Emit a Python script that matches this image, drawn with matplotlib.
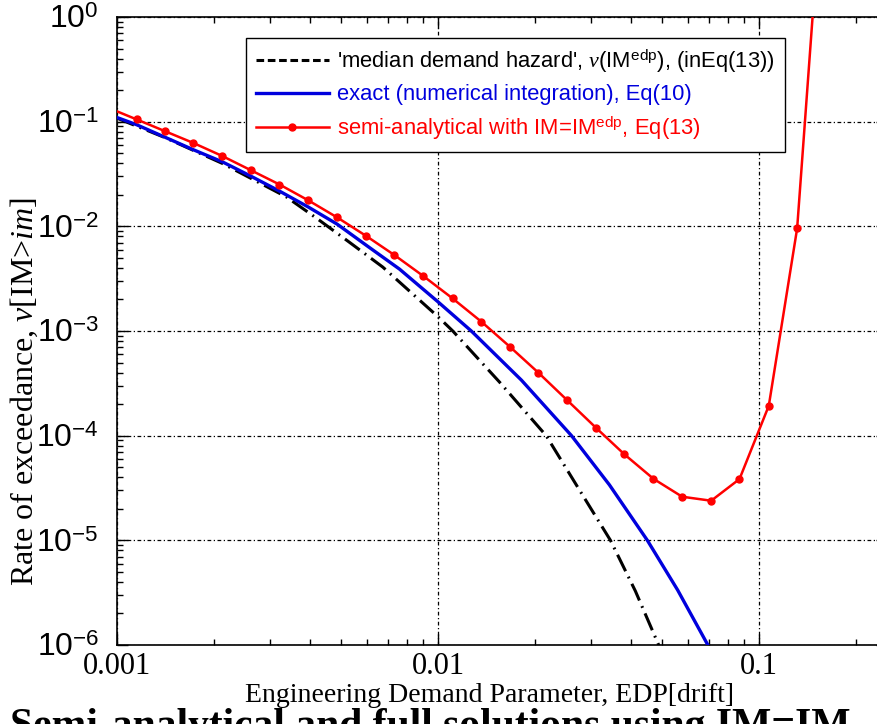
import matplotlib
matplotlib.use("Agg")
import matplotlib.pyplot as plt
from matplotlib.ticker import FixedLocator, FixedFormatter, LogLocator, NullFormatter
from matplotlib.lines import Line2D

plt.rcParams['mathtext.fontset'] = 'custom'
plt.rcParams['mathtext.rm'] = 'Liberation Sans'
plt.rcParams['mathtext.it'] = 'Liberation Serif:italic'
plt.rcParams['mathtext.bf'] = 'Liberation Sans:bold'

# ---- data ----
semi_x = [0.000938, 0.001152, 0.001411, 0.001725, 0.002124, 0.002611, 0.003208,
          0.003950, 0.004853, 0.005967, 0.007318, 0.009012, 0.01110, 0.01366,
          0.01676, 0.02056, 0.02523, 0.03106, 0.03811, 0.04692, 0.05764,
          0.07098, 0.08696, 0.1073, 0.1315, 0.1616]
semi_y = [0.136, 0.105, 0.0811, 0.0628, 0.0471, 0.0344, 0.0251, 0.01766, 0.01216,
          0.00811, 0.00531, 0.00334, 0.00205, 0.001225, 0.000706, 0.000399,
          0.000219, 0.000119, 6.62e-5, 3.87e-5, 2.61e-5, 2.39e-5, 3.85e-5,
          1.93e-4, 0.00955, 55.0]

exact_x = [0.001, 0.00115, 0.00141, 0.001725, 0.00213, 0.00261, 0.00321, 0.00395,
           0.00485, 0.00603, 0.00759, 0.0100, 0.0127, 0.0182, 0.02606, 0.0342,
           0.0449, 0.0558, 0.0693, 0.080]
exact_y = [0.1096, 0.0936, 0.0711, 0.0541, 0.0413, 0.0302, 0.02168, 0.01525,
           0.0105, 0.00647, 0.0039, 0.0019, 0.001, 0.000339, 1.0e-4, 3.39e-5,
           1.0e-5, 3.35e-6, 1.0e-6, 4.3e-7]

median_x = [0.001, 0.00141, 0.00213, 0.00268, 0.00337, 0.00417, 0.00524, 0.00673,
            0.0100, 0.01112, 0.01555, 0.02173, 0.0276, 0.03446, 0.0412, 0.0487,
            0.055]
median_y = [0.108, 0.0705, 0.0399, 0.0276, 0.0191, 0.01205, 0.00722, 0.00408,
            0.00137, 0.001, 0.000325, 1.0e-4, 3.02e-5, 1.0e-5, 3.28e-6, 1.0e-6,
            4.2e-7]

x_ticks = [0.001, 0.01, 0.1]
x_tick_labels = ['0.001', '0.01', '0.1']
y_ticks = [1e-6, 1e-5, 1e-4, 1e-3, 1e-2, 1e-1, 1e0]
y_tick_labels = [r'$10^{-6}$', r'$10^{-5}$', r'$10^{-4}$', r'$10^{-3}$',
                 r'$10^{-2}$', r'$10^{-1}$', r'$10^{0}$']

labels = [r"'median demand hazard', $v$(IM$^{\mathrm{edp}}$), (inEq(13))",
          "exact (numerical integration), Eq(10)",
          r"semi-analytical with IM=IM$^{\mathrm{edp}}$, Eq(13)"]

fig = plt.figure(figsize=(8.77, 7.24), dpi=100)
ax = fig.add_axes([117 / 877, 79 / 724, 769.7 / 877, 628 / 724])
ax.set_xscale('log')
ax.set_yscale('log')

l1, = ax.plot(median_x, median_y, color='k', lw=2.2, dashes=(6, 2, 0.6, 2), zorder=3)
l2, = ax.plot(exact_x, exact_y, color='#0000dd', lw=2.4, zorder=4)
l3, = ax.plot(semi_x, semi_y, color='#ff0000', lw=1.8, marker='o', ms=5, zorder=5)

ax.set_xlim(0.001, 0.25)
ax.set_ylim(1e-6, 1.0)

ax.xaxis.set_major_locator(FixedLocator(x_ticks))
ax.xaxis.set_major_formatter(FixedFormatter(x_tick_labels))
ax.xaxis.set_minor_locator(LogLocator(base=10, subs=range(2, 10)))
ax.xaxis.set_minor_formatter(NullFormatter())
ax.yaxis.set_major_locator(FixedLocator(y_ticks))
ax.yaxis.set_major_formatter(FixedFormatter(y_tick_labels))
ax.yaxis.set_minor_locator(LogLocator(base=10, subs=range(2, 10), numticks=20))
ax.yaxis.set_minor_formatter(NullFormatter())

ax.tick_params(which='both', direction='in', top=True, right=True, width=1)
ax.tick_params(which='major', length=8)
ax.tick_params(which='minor', length=4.5)
ax.tick_params(axis='x', which='major', pad=5)
ax.tick_params(axis='y', which='major', pad=13)
for t in ax.get_xticklabels():
    t.set_fontfamily('Liberation Serif')
    t.set_fontsize(22)
for t in ax.get_yticklabels():
    t.set_fontfamily('Liberation Sans')
    t.set_fontsize(23)

ax.grid(True, which='major', color='k', lw=0.9, linestyle=(0, (3, 2, 1, 2)))
for s in ax.spines.values():
    s.set_linewidth(1.2)

ax.set_xlabel('Engineering Demand Parameter, EDP[drift]', fontfamily='Liberation Serif',
              fontsize=20, va='center')
ax.xaxis.set_label_coords(0.484, -0.081)
ax.set_ylabel(r'Rate of exceedance, $v$[IM>$im$]', fontfamily='Liberation Serif',
              fontsize=23, va='center')
ax.yaxis.set_label_coords(-0.12, 0.404)

handles = [Line2D([], [], color='k', lw=2.2, dashes=(2.5, 1.2)),
           Line2D([], [], color='#0000dd', lw=2.4),
           Line2D([], [], color='#ff0000', lw=1.8, marker='o', ms=5)]
leg = ax.legend(handles, labels, loc='upper right',
                bbox_to_anchor=(785 / 877, 1 - 38 / 724), bbox_transform=fig.transFigure,
                prop={'family': 'Liberation Sans', 'size': 15.8},
                handlelength=3.3, handletextpad=0.4, labelspacing=0.42,
                borderpad=0.45, borderaxespad=0, fancybox=False, framealpha=1,
                edgecolor='k')
leg.get_frame().set_linewidth(1.0)
for txt, c in zip(leg.get_texts(), ['k', '#0000dd', '#ff0000']):
    txt.set_color(c)

fig.text(10 / 877, -0.018, 'Semi-analytical and full solutions using IM=IM',
         fontfamily='Liberation Serif', fontweight='bold', fontsize=30,
         va='baseline', ha='left')

fig.savefig('out.png', dpi=100)
